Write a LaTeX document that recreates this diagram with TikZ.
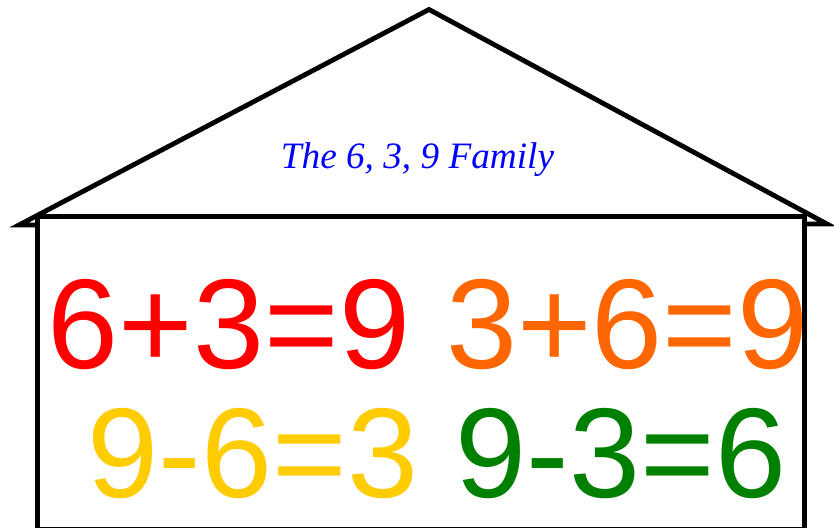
\documentclass[tikz,border=0pt]{standalone}
\usepackage{fontspec}
\setmainfont{Liberation Serif}
\newfontfamily\eqfont{Liberation Sans}
\usetikzlibrary{positioning}

\definecolor{eqred}{RGB}{255,0,0}
\definecolor{eqorange}{RGB}{255,102,0}
\definecolor{eqyellow}{RGB}{255,204,0}
\definecolor{eqgreen}{RGB}{0,128,0}

\begin{document}
\begin{tikzpicture}[x=0.03cm, y=-0.03cm, line width=0.145cm, line join=miter]
    \tikzset{
        equation/.style={anchor=base, inner sep=0pt, font=\eqfont\fontsize{109}{120}\selectfont},
        familytitle/.style={anchor=base, inner sep=0pt, text=blue, font=\itshape\fontsize{31.8}{38}\selectfont}
    }

    % Page size
    \useasboundingbox (0,0) rectangle (834,527);

    % Roof
    \coordinate (roofL) at (19,225);
    \coordinate (roofT) at (429,9.5);
    \coordinate (roofR) at (827,224);
    \draw (roofL) -- (roofT) -- (roofR) -- cycle;

    % Walls (cover the roof base)
    \draw [fill=white] (37.5,216.5) rectangle (804.5,529);

    % Title under the roof
    \node [familytitle] (family) at (417.5,168) {The 6, 3, 9 Family};

    % Number sentences
    \node [equation, text=eqred] (addA) at (229,368) {6+3=9};
    \node [equation, text=eqorange] (addB) at (627.5,368) {3+6=9};
    \node [equation, text=eqyellow] (subA) at (253,497) {9-6=3};
    \node [equation, text=eqgreen] (subB) at (621,497) {9-3=6};

\end{tikzpicture}
\end{document}
